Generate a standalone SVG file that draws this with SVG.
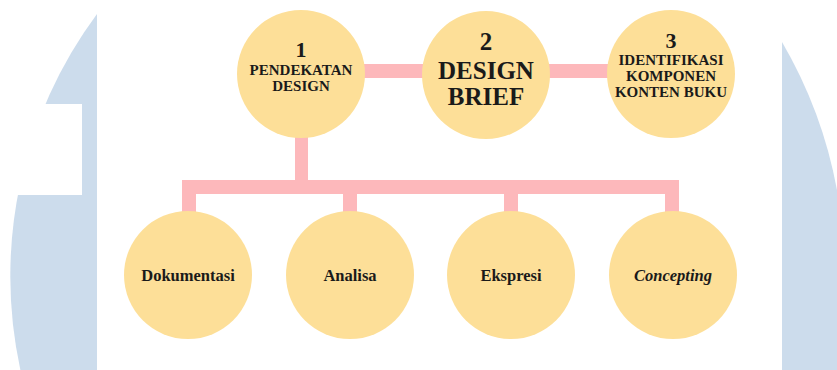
<svg xmlns="http://www.w3.org/2000/svg" width="837" height="370" viewBox="0 0 837 370">
<style>
.bg{fill:#ccdcec}
.node{fill:#fddf98}
.conn rect{fill:#fdb8bb}
text{font-family:'Liberation Serif','Times New Roman','DejaVu Serif',serif;font-weight:bold;fill:#1a1a1a;text-anchor:middle}
.s{font-size:15px}
.n{font-size:22px}
.b{font-size:25px}
.l{font-size:16.5px}
.i{font-style:italic}
</style>
<rect width="837" height="370" fill="#ffffff"/>
<g id="watermark">
<path class="bg" d="M97,14 A440,440 0 0 0 20.4,370 L97,370 Z"/>
<rect x="0" y="104" width="82" height="91" fill="#ffffff"/>
<path class="bg" d="M782,42 A458,458 0 0 1 837,190 L837,370 L782,370 Z"/>
</g>
<g id="connectors" class="conn">
<rect x="301" y="64" width="370" height="14"/>
<rect x="295" y="130" width="13" height="57"/>
<rect x="182" y="180" width="497" height="14"/>
<rect x="182" y="180" width="14" height="36"/>
<rect x="343" y="180" width="14" height="36"/>
<rect x="504" y="180" width="14" height="36"/>
<rect x="665" y="180" width="14" height="36"/>
</g>
<g id="node1">
<circle class="node" cx="301" cy="74" r="64"/>
<text class="n" x="301" y="57">1</text>
<text class="s" x="301" y="75">PENDEKATAN</text>
<text class="s" x="301" y="91">DESIGN</text>
</g>
<g id="node2">
<circle class="node" cx="486" cy="75" r="64"/>
<text class="b" x="486" y="50">2</text>
<text class="b" x="486" y="79">DESIGN</text>
<text class="b" x="486" y="105">BRIEF</text>
</g>
<g id="node3">
<circle class="node" cx="671" cy="74" r="64"/>
<text class="n" x="671" y="48">3</text>
<text class="s" x="671" y="65">IDENTIFIKASI</text>
<text class="s" x="671" y="81">KOMPONEN</text>
<text class="s" x="671" y="97">KONTEN BUKU</text>
</g>
<g id="node4">
<circle class="node" cx="188" cy="275" r="64"/>
<text class="l" x="188" y="281">Dokumentasi</text>
</g>
<g id="node5">
<circle class="node" cx="350" cy="275" r="64"/>
<text class="l" x="350" y="281">Analisa</text>
</g>
<g id="node6">
<circle class="node" cx="511" cy="275" r="64"/>
<text class="l" x="511" y="281">Ekspresi</text>
</g>
<g id="node7">
<circle class="node" cx="673" cy="275" r="64"/>
<text class="l i" x="673" y="281">Concepting</text>
</g>
</svg>
